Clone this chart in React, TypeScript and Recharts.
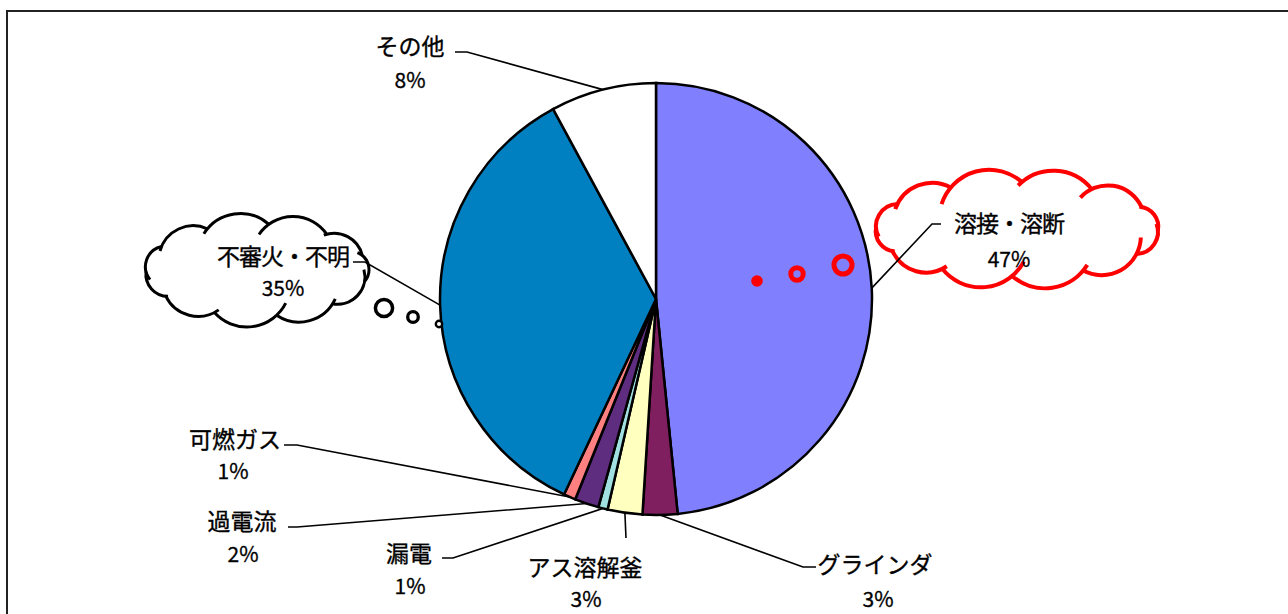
import React from 'react';
import { PieChart, Pie, Cell } from 'recharts';

// causes of fire, clockwise from 12 o'clock
const categories = ['溶接・溶断', 'グラインダ', 'アス溶解釜', '漏電', '過電流', '可燃ガス', '不審火・不明', 'その他'];
// slice sizes as measured on the picture (share of the circle, %)
const shares = [48.4, 2.6, 2.6, 0.7, 1.8, 0.9, 35.1, 7.9];
// percentages as printed on the labels
const pctLabels = ['47%', '3%', '3%', '1%', '2%', '1%', '35%', '8%'];
const colors = ['#8080FF', '#7F1F5F', '#FFFFC0', '#A0E0E0', '#5F2D7F', '#FF8080', '#0080C0', '#FFFFFF'];

const data = categories.map((name, i) => ({ name, value: shares[i] }));

const FONT = '"Noto Sans CJK JP", "Noto Sans", sans-serif';
const NUM_FONT = '"Liberation Sans Narrow", "Noto Sans CJK JP", sans-serif';
const RAD = Math.PI / 180;

// label placement: name / percent centres and leader line bends
const labelLayout: Record<string, { nx: number; ny: number; px: number; py: number; line: number[][] }> = {
  '溶接・溶断': { nx: 1009, ny: 222, px: 1009, py: 258, line: [[932, 224], [941, 224]] },
  'グラインダ': { nx: 875, ny: 563, px: 878, py: 598, line: [[803, 567], [816, 567]] },
  'アス溶解釜': { nx: 585, ny: 566, px: 586, py: 598, line: [[626, 538]] },
  '漏電': { nx: 409, ny: 552, px: 410, py: 585, line: [[453, 558], [442, 558]] },
  '過電流': { nx: 242, ny: 520, px: 243, py: 553, line: [[297, 527], [288, 527]] },
  '可燃ガス': { nx: 235, ny: 438, px: 233, py: 470, line: [[297, 445], [284, 445]] },
  '不審火・不明': { nx: 283, ny: 255, px: 283, py: 287, line: [[365, 262], [353, 262]] },
  'その他': { nx: 410, ny: 45, px: 410, py: 79, line: [[467, 52], [455, 52]] },
};

type CloudSpec = {
  cx: number; cy: number; rx: number; ry: number; n: number; start: number;
  stroke: string; width: number; creases: number[];
};

const redCloud: CloudSpec = {
  cx: 1017, cy: 229, rx: 141, ry: 47, n: 12, start: 182, stroke: '#FF0000', width: 4,
  creases: [25, 8, 22, 6, 22, 6, 18, 25, 8, 22, 8, 6],
};
const blackCloud: CloudSpec = {
  cx: 257, cy: 270, rx: 111, ry: 46, n: 11, start: 178, stroke: '#000000', width: 3,
  creases: [25, 8, 8, 20, 6, 18, 25, 8, 20, 8, 6],
};

const redBubbles = [
  { x: 757, y: 281, r: 5.8, w: 0, fill: '#FF0000', stroke: '#FF0000' },
  { x: 797, y: 274, r: 6.2, w: 5, fill: 'none', stroke: '#FF0000' },
  { x: 843, y: 265, r: 9, w: 5, fill: 'none', stroke: '#FF0000' },
];
const blackBubbles = [
  { x: 384, y: 308, r: 8.6, w: 3.5, fill: '#FFFFFF', stroke: '#000000' },
  { x: 413, y: 317, r: 5.3, w: 3.3, fill: '#FFFFFF', stroke: '#000000' },
  { x: 439, y: 324, r: 3.2, w: 2.4, fill: '#FFFFFF', stroke: '#000000' },
];

function Cloud({ spec }: { spec: CloudSpec }) {
  const pts: number[][] = [];
  for (let i = 0; i < spec.n; i++) {
    const t = (spec.start + (360 * i) / spec.n) * RAD;
    pts.push([spec.cx + spec.rx * Math.cos(t), spec.cy + spec.ry * Math.sin(t)]);
  }
  let fill = `M${pts[0][0]},${pts[0][1]}`;
  const arcs: string[] = [];
  for (let i = 0; i < spec.n; i++) {
    const a = pts[i];
    const b = pts[(i + 1) % spec.n];
    const c = Math.hypot(b[0] - a[0], b[1] - a[1]);
    const r = c * 0.7;
    const dx = (b[0] - a[0]) / c;
    const dy = (b[1] - a[1]) / c;
    const h = Math.sqrt(r * r - (c / 2) * (c / 2));
    const ccx = (a[0] + b[0]) / 2 - dy * h;
    const ccy = (a[1] + b[1]) / 2 + dx * h;
    fill += ` A${r},${r} 0 0 1 ${b[0]},${b[1]}`;
    const ext = spec.creases[i] * RAD;
    const phA = Math.atan2(a[1] - ccy, a[0] - ccx);
    const sx = ccx + r * Math.cos(phA - ext);
    const sy = ccy + r * Math.sin(phA - ext);
    const span = 2 * Math.asin(c / (2 * r)) + ext;
    arcs.push(`M${sx},${sy} A${r},${r} 0 ${span > Math.PI ? 1 : 0} 1 ${b[0]},${b[1]}`);
  }
  fill += ' Z';
  return (
    <g>
      <path d={fill} fill="#FFFFFF" stroke="none" />
      {arcs.map((d, i) => (
        <path key={i} d={d} fill="none" stroke={spec.stroke} strokeWidth={spec.width} strokeLinecap="butt" />
      ))}
    </g>
  );
}

function SliceLabel(props: any) {
  const { cx, cy, midAngle, outerRadius, index, name } = props;
  const lay = labelLayout[name];
  if (!lay) return null;
  const sx = cx + outerRadius * Math.cos(-midAngle * RAD);
  const sy = cy + outerRadius * Math.sin(-midAngle * RAD);
  const pts = [[sx, sy], ...lay.line].map((p) => p.join(',')).join(' ');
  const bubbles = index === 0 ? redBubbles : index === 6 ? blackBubbles : [];
  return (
    <g>
      {index === 0 && <Cloud spec={redCloud} />}
      {index === 6 && <Cloud spec={blackCloud} />}
      {bubbles.map((b, i) => (
        <circle key={i} cx={b.x} cy={b.y} r={b.r} fill={b.fill} stroke={b.stroke} strokeWidth={b.w} />
      ))}
      <polyline points={pts} fill="none" stroke="#000" strokeWidth={1.6} />
      <text
        x={lay.nx} y={lay.ny} textAnchor="middle" dominantBaseline="central"
        fontFamily={FONT} fontSize={23} fill="#000" stroke="#000" strokeWidth={0.35}
        letterSpacing={name.includes('・') ? -1 : 0}
      >
        {name}
      </text>
      <text
        x={lay.px} y={lay.py} textAnchor="middle" dominantBaseline="central"
        fontFamily={NUM_FONT} fontSize={21} fill="#000" stroke="#000" strokeWidth={0.3}
      >
        {pctLabels[index]}
      </text>
    </g>
  );
}

export default function App() {
  return (
    <div style={{ position: 'fixed', left: 0, top: 0, width: 1288, height: 614, overflow: 'hidden', background: '#fff' }}>
      <div
        style={{
          position: 'absolute', left: 6, top: 10, width: 1400, height: 700,
          borderLeft: '2px solid #222', borderTop: '2px solid #222',
        }}
      />
      <div style={{ position: 'absolute', left: 0, top: 0 }}>
        <PieChart width={1288} height={614} margin={{ top: 0, right: 0, bottom: 0, left: 0 }}>
          <Pie
            data={data}
            dataKey="value"
            nameKey="name"
            cx={656}
            cy={299}
            outerRadius={216}
            startAngle={90}
            endAngle={-270}
            stroke="#000"
            strokeWidth={2.5}
            label={SliceLabel}
            labelLine={false}
            isAnimationActive={false}
          >
            {data.map((d, i) => (
              <Cell key={d.name} fill={colors[i]} />
            ))}
          </Pie>
        </PieChart>
      </div>
    </div>
  );
}
